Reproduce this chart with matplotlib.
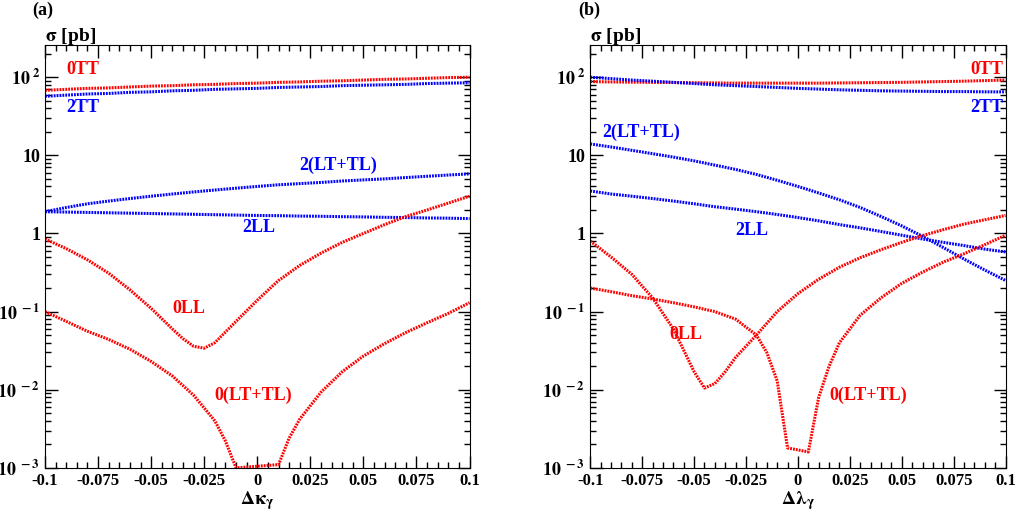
import matplotlib
matplotlib.use("Agg")
import matplotlib.pyplot as plt
import numpy as np

plt.rcParams['font.family'] = ['Liberation Serif', 'DejaVu Serif']
plt.rcParams['font.weight'] = 'bold'
plt.rcParams['mathtext.fontset'] = 'stix'
plt.rcParams['mathtext.default'] = 'bf'

RED, BLUE = '#ff0000', '#0000ff'

# panel (a): delta kappa_gamma
xa = [-0.1, -0.09, -0.08, -0.07, -0.06, -0.05, -0.04, -0.03, -0.02, -0.01, 0.0,
      0.01, 0.02, 0.03, 0.04, 0.05, 0.06, 0.07, 0.08, 0.09, 0.1]
a_0TT = [68, 70, 72, 73, 75, 77, 78, 80, 81, 83, 84, 86, 87, 89, 90, 92, 94, 95, 97, 99, 100]
a_2TT = [57, 59, 61, 62, 64, 65, 67, 68, 70, 71, 72, 74, 75, 76, 78, 79, 80, 81, 83, 84, 85]
a_2LTTL = [1.9, 2.15, 2.4, 2.6, 2.8, 3.0, 3.2, 3.4, 3.6, 3.8, 4.0, 4.2, 4.35, 4.5, 4.7,
           4.85, 5.0, 5.2, 5.4, 5.6, 5.8]
a_2LL = [1.9, 1.88, 1.86, 1.84, 1.82, 1.8, 1.78, 1.76, 1.74, 1.72, 1.7, 1.69, 1.67, 1.66,
         1.64, 1.63, 1.61, 1.6, 1.58, 1.57, 1.55]
xa_0LL = [-0.1, -0.09, -0.08, -0.07, -0.06, -0.05, -0.04, -0.035, -0.03, -0.025, -0.02,
          -0.01, 0.0, 0.01, 0.02, 0.03, 0.04, 0.05, 0.06, 0.07, 0.08, 0.09, 0.1]
a_0LL = [0.85, 0.64, 0.46, 0.31, 0.19, 0.11, 0.06, 0.045, 0.036, 0.034, 0.04, 0.075, 0.14,
         0.25, 0.39, 0.56, 0.77, 1.0, 1.3, 1.65, 2.0, 2.45, 3.0]
xa_0LTTL = [-0.1, -0.09, -0.08, -0.07, -0.06, -0.05, -0.04, -0.03, -0.02, -0.015, -0.01,
            0.01, 0.015, 0.02, 0.03, 0.04, 0.05, 0.06, 0.07, 0.08, 0.09, 0.1]
a_0LTTL = [0.1, 0.075, 0.056, 0.044, 0.033, 0.023, 0.015, 0.0085, 0.004, 0.0022, 0.001,
           0.0011, 0.0024, 0.0042, 0.0093, 0.017, 0.027, 0.039, 0.054, 0.072, 0.095, 0.13]

# panel (b): delta lambda_gamma
xb = xa
b_0TT = [88, 87, 86.5, 86, 85.5, 85, 84.5, 84, 84, 84, 84, 84, 84.5, 85, 85.5, 86, 87,
         88, 89, 90.5, 92]
b_2TT = [100, 96, 92, 89, 86, 83, 80, 78, 76, 74, 72, 70.5, 69, 68, 67, 66.5, 66, 65.5,
         65.5, 65, 65]
b_2LTTL = [14, 12.8, 11.6, 10.5, 9.5, 8.5, 7.5, 6.6, 5.7, 4.8, 4.0, 3.3, 2.7, 2.15,
           1.65, 1.25, 0.92, 0.66, 0.47, 0.34, 0.25]
b_2LL = [3.5, 3.2, 3.0, 2.8, 2.6, 2.4, 2.2, 2.05, 1.9, 1.75, 1.6, 1.45, 1.3, 1.18, 1.06,
         0.95, 0.85, 0.77, 0.7, 0.63, 0.58]
xb_0LL = [-0.1, -0.09, -0.08, -0.07, -0.06, -0.055, -0.05, -0.045, -0.04, -0.035, -0.03,
          -0.02, -0.01, 0.0, 0.01, 0.02, 0.03, 0.04, 0.05, 0.06, 0.07, 0.08, 0.09, 0.1]
b_0LL = [0.8, 0.5, 0.3, 0.15, 0.06, 0.032, 0.017, 0.0105, 0.012, 0.017, 0.026, 0.05,
         0.1, 0.17, 0.26, 0.37, 0.49, 0.62, 0.77, 0.94, 1.12, 1.32, 1.5, 1.7]
xb_0LTTL = [-0.1, -0.09, -0.08, -0.07, -0.06, -0.05, -0.04, -0.03, -0.02, -0.015, -0.01,
            -0.005, 0.005, 0.01, 0.015, 0.02, 0.03, 0.04, 0.05, 0.06, 0.07, 0.08, 0.09, 0.1]
b_0LTTL = [0.2, 0.18, 0.16, 0.145, 0.13, 0.115, 0.1, 0.08, 0.05, 0.03, 0.013, 0.0018,
           0.0016, 0.008, 0.02, 0.04, 0.09, 0.15, 0.23, 0.32, 0.43, 0.55, 0.72, 0.95]

xticks = [-0.1, -0.075, -0.05, -0.025, 0, 0.025, 0.05, 0.075, 0.1]
xticklabels = ['-0.1', '-0.075', '-0.05', '-0.025', '0', '0.025', '0.05', '0.075', '0.1']

fig = plt.figure(figsize=(10.23, 5.21), dpi=100)
axa = fig.add_axes([0.044, 0.102, 0.415, 0.812])
axb = fig.add_axes([0.577, 0.102, 0.406, 0.812])


def curve(ax, x, y, c):
    ax.plot(x, y, color=c, lw=2.2, ls=(0, (0.6, 0.35)))


def setup(ax, xlabel, tag):
    ax.set_yscale('log')
    ax.set_xlim(-0.1, 0.1)
    ax.set_ylim(1e-3, 260)
    ax.set_xticks(xticks)
    ax.set_xticklabels(xticklabels, fontsize=12)
    ax.set_xticks(np.arange(-0.1, 0.1001, 0.005), minor=True)
    ax.set_yticks([1e-3, 1e-2, 1e-1, 1, 10, 100])
    ax.set_yticklabels([r'$10^{\ -3}$', r'$10^{\ -2}$', r'$10^{\ -1}$', '1', '10',
                        r'$10^{\ 2}$'], fontsize=13)
    ax.tick_params(which='both', direction='in', top=True, right=True, width=1)
    ax.tick_params(which='major', length=9)
    ax.tick_params(which='minor', length=4)
    ax.set_xlabel(xlabel, fontsize=14, labelpad=0)
    ax.text(-0.03, 1.07, tag, transform=ax.transAxes, fontsize=13)
    ax.text(0.0, 1.01, r'$\sigma$ [pb]', transform=ax.transAxes, fontsize=14)


curve(axa, xa, a_0TT, RED)
curve(axa, xa, a_2TT, BLUE)
curve(axa, xa, a_2LTTL, BLUE)
curve(axa, xa, a_2LL, BLUE)
curve(axa, xa_0LL, a_0LL, RED)
curve(axa, xa_0LTTL, a_0LTTL, RED)
setup(axa, r'$\mathrm{\Delta\kappa_\gamma}$', '(a)')
axa.text(-0.09, 110, '0TT', color=RED, fontsize=13)
axa.text(-0.09, 36, '2TT', color=BLUE, fontsize=13)
axa.text(0.02, 6.5, '2(LT+TL)', color=BLUE, fontsize=13)
axa.text(-0.007, 1.05, '2LL', color=BLUE, fontsize=13)
axa.text(-0.04, 0.095, '0LL', color=RED, fontsize=13)
axa.text(-0.02, 0.0075, '0(LT+TL)', color=RED, fontsize=13)

curve(axb, xb, b_0TT, RED)
curve(axb, xb, b_2TT, BLUE)
curve(axb, xb, b_2LTTL, BLUE)
curve(axb, xb, b_2LL, BLUE)
curve(axb, xb_0LL, b_0LL, RED)
curve(axb, xb_0LTTL, b_0LTTL, RED)
setup(axb, r'$\mathrm{\Delta\lambda_\gamma}$', '(b)')
axb.text(0.083, 110, '0TT', color=RED, fontsize=13)
axb.text(0.083, 36, '2TT', color=BLUE, fontsize=13)
axb.text(-0.094, 17, '2(LT+TL)', color=BLUE, fontsize=13)
axb.text(-0.03, 0.95, '2LL', color=BLUE, fontsize=13)
axb.text(-0.062, 0.045, '0LL', color=RED, fontsize=13)
axb.text(0.015, 0.0075, '0(LT+TL)', color=RED, fontsize=13)

fig.savefig('out.png', dpi=100)
